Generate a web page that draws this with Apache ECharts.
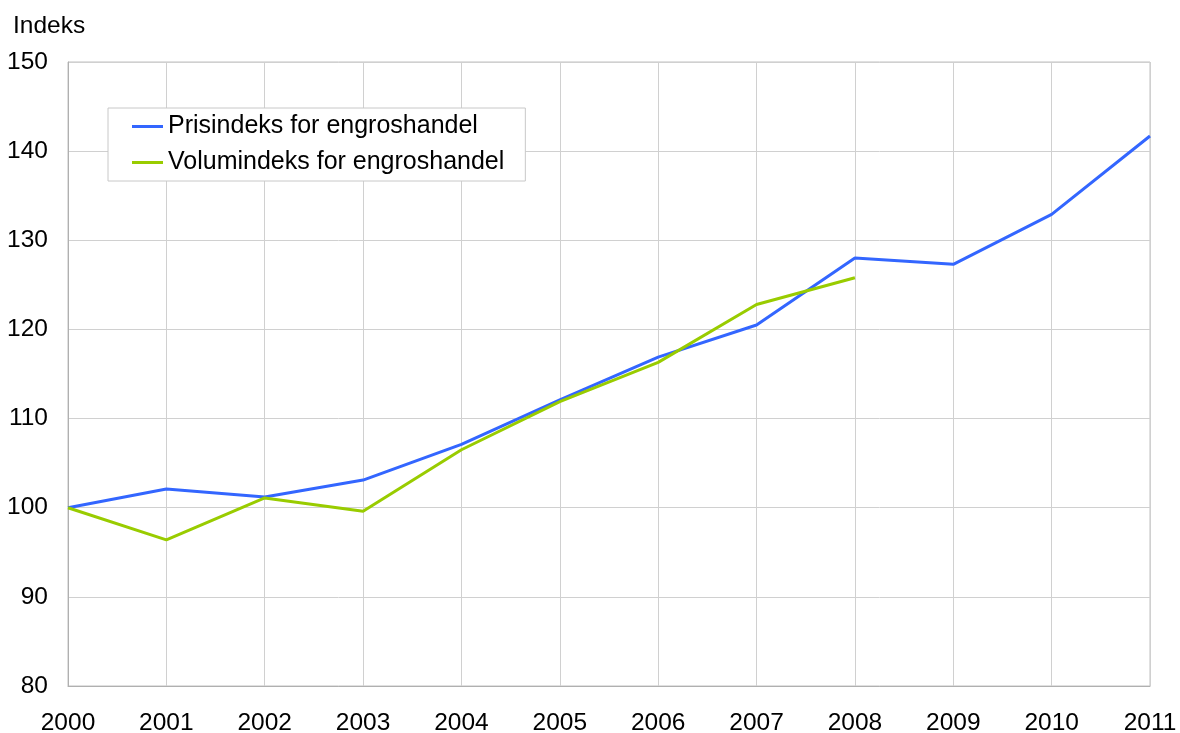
<!DOCTYPE html>
<html><head><meta charset="utf-8">
<script src="https://cdn.jsdelivr.net/npm/echarts@6/dist/echarts.min.js"></script>
<style>html,body{margin:0;padding:0;background:#fff}#c{width:1180px;height:733px}</style>
</head><body><div id="c"></div>
<script>
const years = ['2000','2001','2002','2003','2004','2005','2006','2007','2008','2009','2010','2011'];
const prisindeks = [100, 102.1, 101.2, 103.1, 107.1, 112.1, 116.9, 120.5, 128.0, 127.3, 132.9, 141.7];
const volumindeks = [100, 96.4, 101.1, 99.6, 106.5, 111.9, 116.3, 122.8, 125.8, null, null, null];
const seriesNames = ['Prisindeks for engroshandel', 'Volumindeks for engroshandel'];
const FONT = 'Liberation Sans, Arial, sans-serif';
const FS = 24.5;
const chart = echarts.init(document.getElementById('c'));
chart.setOption({
  animation: false,
  title: {text: 'Indeks', left: 8, top: 9, textStyle: {fontFamily: FONT, fontSize: FS, fontWeight: 'normal', color: '#000'}},
  legend: {
    left: 108, top: 108, orient: 'vertical', itemWidth: 31, itemHeight: 3, itemGap: 11, itemTextGap: 6,
    padding: [6, 21, 6, 24], backgroundColor: '#fff', borderColor: '#c8c8c8', borderWidth: 1,
    textStyle: {fontFamily: FONT, fontSize: 25, color: '#000'},
    icon: 'rect',
    data: seriesNames
  },
  grid: {left: 68, right: 30, top: 62, bottom: 47, show: true, borderColor: '#c0c0c0', borderWidth: 1, containLabel: false, outerBoundsMode: 'none'},
  xAxis: {
    type: 'category', data: years, boundaryGap: false,
    axisLine: {lineStyle: {color: '#b0b0b0'}}, axisTick: {show: false},
    splitLine: {show: true, lineStyle: {color: '#d0d0d0'}},
    axisLabel: {fontFamily: FONT, fontSize: FS, color: '#000', margin: 25}
  },
  yAxis: {
    type: 'value', min: 80, max: 150, interval: 10,
    axisLine: {show: true, lineStyle: {color: '#b0b0b0'}}, axisTick: {show: false},
    splitLine: {lineStyle: {color: '#d0d0d0'}},
    axisLabel: {fontFamily: FONT, fontSize: FS, color: '#000', margin: 20}
  },
  series: [
    {name: seriesNames[0], type: 'line', data: prisindeks, symbol: 'none', lineStyle: {color: '#3366ff', width: 3}, itemStyle: {color: '#3366ff'}},
    {name: seriesNames[1], type: 'line', data: volumindeks, symbol: 'none', lineStyle: {color: '#99cc00', width: 3}, itemStyle: {color: '#99cc00'}}
  ]
});
</script></body></html>
